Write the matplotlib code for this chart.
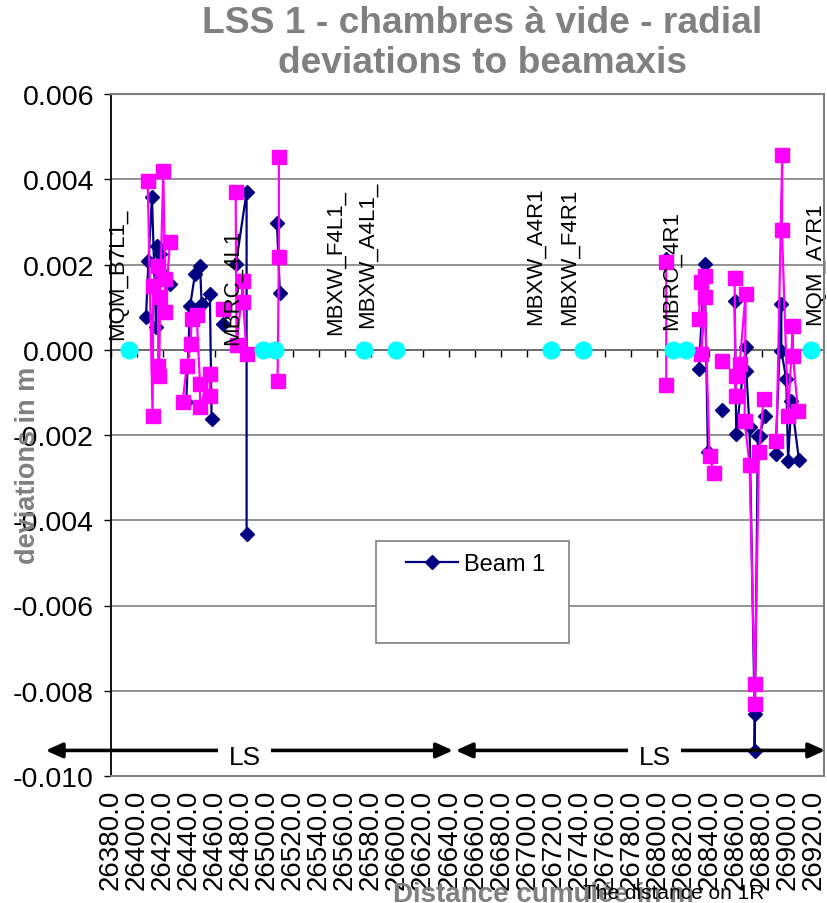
import numpy as np
import matplotlib.pyplot as plt
from matplotlib.patches import Rectangle
from matplotlib.transforms import Bbox, TransformedBbox

plt.rcParams['font.family'] = ['Liberation Sans', 'DejaVu Sans']

nan = np.nan

# Beam 1 radial deviations (m); NaN separates the groups of chambers
beam1_x = [26407.1, 26409.0, 26411.7, 26414.8, 26415.6, 26418.0, 26425.6, nan,
           26438.0, 26441.0, 26444.8, 26448.6, 26449.9, 26456.2, 26457.5, nan,
           26466.2, nan,
           26476.2, 26484.4, 26484.4, nan,
           26507.7, 26510.0, nan,
           26806.9, nan,
           26831.9, 26836.3, 26838.8, nan,
           26849.5, nan,
           26859.3, 26860.6, 26867.8, 26868.3, 26870.8, 26874.7, 26874.7, 26877.2,
           26878.5, 26882.4, nan,
           26890.8, 26895.2, 26895.2, 26899.0, 26900.4, 26903.0, 26908.8]
beam1_y = [0.00076, 0.00208, 0.00358, 0.00053, 0.00243, 0.00225, 0.00154, nan,
           -0.00123, 0.00103, 0.00178, 0.00197, 0.00107, 0.00131, -0.00162, nan,
           0.00060, nan,
           0.00201, 0.00370, -0.00432, nan,
           0.00297, 0.00132, nan,
           0.00213, nan,
           -0.00045, 0.00201, -0.00239, nan,
           -0.00141, nan,
           0.00115, -0.00198, 0.00006, -0.00049, -0.00182, -0.00854, -0.00941, -0.00202,
           -0.00202, -0.00155, nan,
           -0.00245, 0.00107, -0.00002, -0.00069, -0.00260, -0.00120, -0.00259]

# second beam (magenta squares)
beam2_x = [26408.4, 26412.2, 26412.7, 26416.5, 26416.5, 26417.3, 26417.9, 26420.4,
           26421.7, 26421.7, 26425.5, nan,
           26435.3, 26438.4, 26441.4, 26442.2, 26446.0, 26448.6, 26448.6, 26456.2,
           26456.2, nan,
           26466.5, nan,
           26476.0, 26476.7, 26481.8, 26481.8, 26484.4, nan,
           26509.2, 26509.2, 26508.2, nan,
           26806.8, 26806.8, nan,
           26831.9, 26833.2, 26836.3, 26833.7, 26836.3, 26840.1, 26843.2, nan,
           26849.9, nan,
           26859.3, 26860.1, 26860.6, 26863.2, 26867.8, 26867.0, 26870.8, 26874.7,
           26874.7, 26878.0, 26881.6, nan,
           26891.5, 26895.9, 26895.7, 26900.4, 26904.1, 26904.1, 26908.0]
beam2_y = [0.00397, -0.00155, 0.00150, 0.00197, -0.00037, -0.00061, 0.00123, 0.00420,
           0.00166, 0.00088, 0.00252, nan,
           -0.00122, -0.00039, 0.00013, 0.00072, 0.00082, -0.00080, -0.00135, -0.00057,
           -0.00108, nan,
           0.00096, nan,
           0.00371, 0.00010, 0.00162, 0.00111, -0.00010, nan,
           0.00452, 0.00217, -0.00073, nan,
           0.00205, -0.00083, nan,
           0.00072, 0.00160, 0.00174, -0.00010, 0.00123, -0.00250, -0.00288, nan,
           -0.00026, nan,
           0.00168, -0.00108, -0.00061, -0.00033, 0.00131, -0.00166, -0.00270, -0.00784,
           -0.00831, -0.00241, -0.00116, nan,
           -0.00213, 0.00457, 0.00281, -0.00155, 0.00056, -0.00014, -0.00143]

# magnet / element positions on the beam axis
elem_x = [26394.3, 26497.2, 26506.2, 26574.5, 26599.3, 26718.1, 26742.9,
          26812.0, 26822.3, 26918.2]
elem_y = [0.0] * len(elem_x)

elem_names = ['MQM_B7L1_', 'MBRC_4L1', 'MBXW_F4L1_', 'MBXW_A4L1_',
              'MBXW_A4R1', 'MBXW_F4R1', 'MBRC_4R1', 'MQM_A7R1']
name_x = [26385.7, 26473.1, 26552.2, 26577.5, 26706.5, 26732.6, 26810.9, 26920.7]
name_y = [0.00025, 0.00013, 0.00037, 0.00053, 0.00060, 0.00060, 0.00049, 0.00060]

ls_spans = [(26330, 26643), (26645, 26929)]
ls_label_x = [26483, 26798]
ls_y = -0.0094

xticks = np.arange(26380, 26921, 20)
yticks = np.arange(-0.010, 0.0061, 0.002)

grey = '#808080'

fig = plt.figure(figsize=(8.27, 9.04), dpi=100)
ax = fig.add_axes([110.7 / 827, 1 - 777 / 904, (824 - 110.7) / 827, (777 - 95) / 904])

h1, = ax.plot(beam1_x, beam1_y, color='#000080', marker='D', ms=7, lw=1.6,
              label='Beam 1', zorder=2)
ax.plot(beam2_x, beam2_y, color='#FF00FF', marker='s', ms=9.5, lw=1.6, zorder=2.05)
ax.plot(elem_x, elem_y, ls='none', marker='o', ms=12, color='#00FFFF', zorder=2.1)

for name, x, y in zip(elem_names, name_x, name_y):
    ax.text(x, y, name, rotation=90, ha='center', va='bottom', fontsize=16, zorder=2.2)

ax.set_xlim(26380, 26928)
ax.set_ylim(-0.010, 0.006)
ax.set_yticks(yticks)
ax.set_yticklabels([f'{v:.3f}' for v in yticks])
ax.set_xticks(xticks)
ax.set_xticklabels([f'{v:.1f}' for v in xticks], rotation=90)
ax.tick_params(axis='x', length=0, pad=9, labelsize=20)
ax.tick_params(axis='y', direction='out', length=5, width=1, pad=7, labelsize=20.5)
ax.yaxis.grid(True, color=grey, lw=1.2)
for s in ['top', 'right', 'bottom']:
    ax.spines[s].set_color(grey)
    ax.spines[s].set_linewidth(1.5)
ax.spines['left'].set_color('black')
ax.spines['left'].set_linewidth(1.3)

# horizontal axis crossing at zero with its tick marks
zero_frac = (0 - (-0.010)) / 0.016
sec = ax.secondary_xaxis(zero_frac)
sec.set_alignment('bottom')
sec.set_xticks(xticks)
sec.tick_params(axis='x', direction='out', length=5, width=1, labelbottom=False,
                labeltop=False, color='black')
sec.spines['bottom'].set_color('black')
sec.spines['bottom'].set_linewidth(1.3)

# LS sections
clip = TransformedBbox(Bbox([[0, 1 - 767 / 904], [1, 1]]), fig.transFigure)
for (x0, x1), lx in zip(ls_spans, ls_label_x):
    ax.annotate('', xy=(x1, ls_y), xytext=(x0, ls_y),
                arrowprops=dict(arrowstyle='<|-|>,head_length=1.0,head_width=0.45',
                                color='black', lw=2.6, shrinkA=0, shrinkB=0),
                annotation_clip=False, zorder=2.3)
    t = ax.text(lx, -0.00928, 'LS', ha='center', va='top', fontsize=19, zorder=2.4,
                bbox=dict(boxstyle='square,pad=0.4', facecolor='white', edgecolor='none'))
    t.set_clip_box(clip)
    t.set_clip_on(True)

# legend
ax.add_patch(Rectangle((375.7 / 827, 1 - 644 / 904), (569.3 - 375.7) / 827,
                       (644 - 541.7) / 904, transform=fig.transFigure,
                       facecolor='white', edgecolor=grey, lw=1.2, zorder=4.9))
ax.legend(handles=[h1], loc='center left', bbox_to_anchor=(405.7 / 827, 1 - 565 / 904),
          bbox_transform=fig.transFigure, frameon=False, fontsize=17,
          handlelength=2.2, handletextpad=0.25, borderpad=0, borderaxespad=0)

fig.text(482.5 / 827, 1 - 6 / 904, 'LSS 1 - chambres à vide - radial\ndeviations to beamaxis',
         ha='center', va='top', fontsize=26.7, weight='bold', color=grey, linespacing=1.2)
fig.text(28 / 827, 1 - 465 / 904, 'deviations in m', rotation=90, ha='center', va='center',
         fontsize=19.5, weight='bold', color=grey)
fig.text(543 / 827, 2 / 904, 'Distance cumulée in m', ha='center', va='baseline',
         fontsize=20, weight='bold', color=grey)
fig.text(583 / 827, 5 / 904, 'The distance on 1R', ha='left', va='baseline', fontsize=15)

fig.savefig('out.png', dpi=100)
